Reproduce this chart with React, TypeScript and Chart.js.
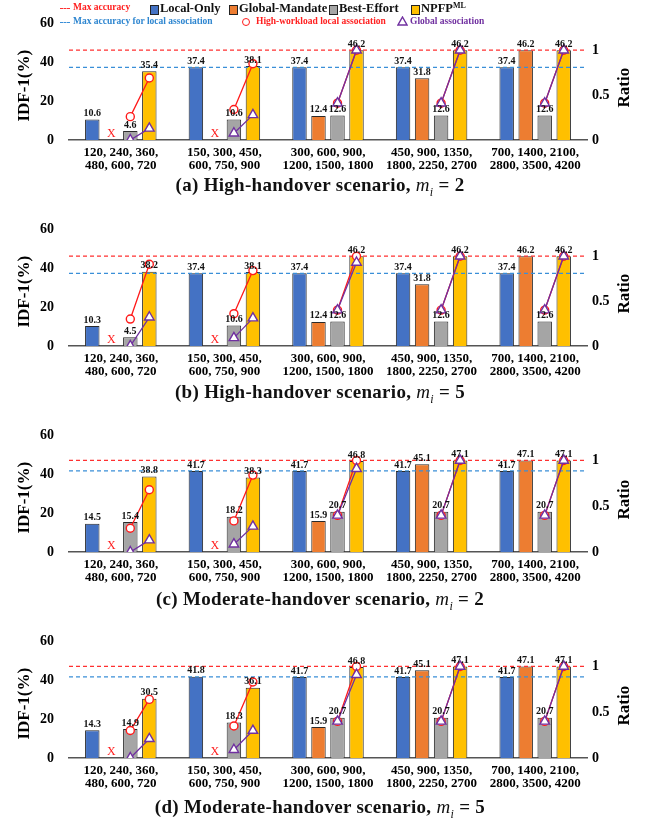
import React, { useEffect, useRef } from "react";
import { Chart, registerables } from "chart.js";
Chart.register(...registerables);

const FONT = "'Liberation Serif', 'Times New Roman', serif";

const categories = [
  ["120, 240, 360,", "480, 600, 720"],
  ["150, 300, 450,", "600, 750, 900"],
  ["300, 600, 900,", "1200, 1500, 1800"],
  ["450, 900, 1350,", "1800, 2250, 2700"],
  ["700, 1400, 2100,", "2800, 3500, 4200"],
];
const seriesNames = ["Local-Only", "Global-Mandate", "Best-Effort", "NPFP"];
const seriesColors = ["#4472C4", "#ED7D31", "#A5A5A5", "#FFC000"];
const idfTicks = [0, 20, 40, 60];
const ratioTicks = [0, 0.5, 1];

// (a) High-handover, m_i = 2
const localOnlyA = [10.6, 37.4, 37.4, 37.4, 37.4];
const globalMandateA = [null, null, 12.4, 31.8, 46.2];
const bestEffortA = [4.6, 10.6, 12.6, 12.6, 12.6];
const npfpA = [35.4, 38.1, 46.2, 46.2, 46.2];
const highWorkloadA = [[0.26, 0.69], [0.34, 0.85], [0.41, 1.0], [0.41, 1.0], [0.41, 1.0]];
const globalAssocA = [[0, 0.13], [0.075, 0.28], [0.41, 1.0], [0.41, 1.0], [0.41, 1.0]];
const maxAccuracyA = 46.2;
const maxLocalA = 37.4;

// (b) High-handover, m_i = 5
const localOnlyB = [10.3, 37.4, 37.4, 37.4, 37.4];
const globalMandateB = [null, null, 12.4, 31.8, 46.2];
const bestEffortB = [4.5, 10.6, 12.6, 12.6, 12.6];
const npfpB = [38.2, 38.1, 46.2, 46.2, 46.2];
const highWorkloadB = [[0.3, 0.91], [0.36, 0.84], [0.4, 1.0], [0.4, 1.0], [0.4, 1.0]];
const globalAssocB = [[0, 0.32], [0.09, 0.31], [0.4, 0.93], [0.4, 1.0], [0.4, 1.0]];
const maxAccuracyB = 46.2;
const maxLocalB = 37.4;

// (c) Moderate-handover, m_i = 2
const localOnlyC = [14.5, 41.7, 41.7, 41.7, 41.7];
const globalMandateC = [null, null, 15.9, 45.1, 47.1];
const bestEffortC = [15.4, 18.2, 20.7, 20.7, 20.7];
const npfpC = [38.8, 38.3, 46.8, 47.1, 47.1];
const highWorkloadC = [[0.26, 0.68], [0.34, 0.84], [0.4, 1.0], [0.4, 1.0], [0.4, 1.0]];
const globalAssocC = [[0, 0.13], [0.085, 0.28], [0.4, 0.91], [0.4, 1.0], [0.4, 1.0]];
const maxAccuracyC = 47.1;
const maxLocalC = 41.7;

// (d) Moderate-handover, m_i = 5
const localOnlyD = [14.3, 41.8, 41.7, 41.7, 41.7];
const globalMandateD = [null, null, 15.9, 45.1, 47.1];
const bestEffortD = [14.9, 18.3, 20.7, 20.7, 20.7];
const npfpD = [30.5, 36.1, 46.8, 47.1, 47.1];
const highWorkloadD = [[0.3, 0.64], [0.35, 0.83], [0.4, 1.0], [0.4, 1.0], [0.4, 1.0]];
const globalAssocD = [[0, 0.21], [0.09, 0.3], [0.4, 0.91], [0.4, 1.0], [0.4, 1.0]];
const maxAccuracyD = 47.1;
const maxLocalD = 41.7;

const CAT_PCT = 0.734;
const BAR_PCT = 0.76;
const slotOffset = (slot: number) => (slot - 1.5) * CAT_PCT / 4;

function pairPoints(pairs: number[][]) {
  const pts: any[] = [];
  pairs.forEach((p, i) => {
    pts.push({ x: i + slotOffset(2), y: p[0] });
    pts.push({ x: i + slotOffset(3), y: p[1] });
    pts.push({ x: i + 0.5, y: null });
  });
  return pts;
}

const labelPlugin = {
  id: "barLabels",
  afterDatasetsDraw(chart: any) {
    const ctx = chart.ctx;
    const yScale = chart.scales.y;
    ctx.save();
    ctx.textAlign = "center";
    chart.data.datasets.forEach((ds: any, di: number) => {
      if (ds.type === "line") return;
      const meta = chart.getDatasetMeta(di);
      meta.data.forEach((el: any, i: number) => {
        const v = ds.data[i].y;
        if (v == null) {
          ctx.font = `12px ${FONT}`;
          ctx.fillStyle = "#FF2020";
          ctx.textBaseline = "middle";
          ctx.fillText("X", el.x, yScale.getPixelForValue(0) - 6);
          return;
        }
        ctx.font = `bold 10px ${FONT}`;
        ctx.fillStyle = "#111";
        ctx.textBaseline = "bottom";
        ctx.fillText(v.toFixed(1), el.x, el.y - 1);
      });
    });
    ctx.restore();
  },
};

const axisTitlePlugin = {
  id: "axisTitles",
  afterDraw(chart: any) {
    const { ctx, chartArea } = chart;
    const cy = (chartArea.top + chartArea.bottom) / 2 + 4;
    ctx.save();
    ctx.font = `bold 17px ${FONT}`;
    ctx.fillStyle = "#000";
    ctx.textAlign = "center";
    ctx.textBaseline = "middle";
    ctx.translate(25, cy);
    ctx.rotate(-Math.PI / 2);
    ctx.fillText("IDF-1(%)", 0, 0);
    ctx.restore();
    ctx.save();
    ctx.font = `bold 17px ${FONT}`;
    ctx.fillStyle = "#000";
    ctx.textAlign = "center";
    ctx.textBaseline = "middle";
    ctx.translate(625, cy + 2);
    ctx.rotate(-Math.PI / 2);
    ctx.fillText("Ratio", 0, 0);
    ctx.restore();
  },
};

type PanelProps = {
  top: number;
  local: (number | null)[];
  mandate: (number | null)[];
  effort: (number | null)[];
  npfp: (number | null)[];
  workload: number[][];
  assoc: number[][];
  maxAcc: number;
  maxLocal: number;
};

function Panel(p: PanelProps) {
  const ref = useRef<HTMLCanvasElement>(null);
  useEffect(() => {
    if (!ref.current) return;
    const barData = [p.local, p.mandate, p.effort, p.npfp];
    const bars = barData.map((d, k) => ({
      type: "bar",
      label: seriesNames[k],
      data: d.map((v, i) => ({ x: i + slotOffset(k), y: v })),
      backgroundColor: seriesColors[k],
      borderColor: "#2a2a2a",
      borderWidth: (c: any) => (c.raw && c.raw.y == null ? 0 : 1),
      borderSkipped: "bottom",
      grouped: false,
      categoryPercentage: 1,
      barPercentage: BAR_PCT,
      xAxisID: "x2",
      yAxisID: "y",
      order: 5,
    }));
    const dashed = (v: number, color: string) => ({
      type: "line",
      data: [{ x: -0.5, y: v }, { x: 4.5, y: v }],
      borderColor: color,
      borderWidth: 1.2,
      borderDash: [4, 3],
      pointRadius: 0,
      xAxisID: "x2",
      yAxisID: "y",
      order: 3,
    });
    const chart = new Chart(ref.current, {
      type: "bar",
      data: {
        labels: categories,
        datasets: [
          ...bars,
          dashed(p.maxAcc, "#FF3030"),
          dashed(p.maxLocal, "#3A8FD8"),
          {
            type: "line",
            data: pairPoints(p.workload),
            borderColor: "#FF1A1A",
            borderWidth: 1.3,
            pointStyle: "circle",
            pointRadius: 4,
            pointBorderWidth: 1.4,
            pointBackgroundColor: "#fff",
            pointBorderColor: "#FF1A1A",
            spanGaps: false,
            xAxisID: "x2",
            yAxisID: "y2",
            order: 2,
          },
          {
            type: "line",
            data: pairPoints(p.assoc),
            borderColor: "#7030A0",
            borderWidth: 1.3,
            pointStyle: "triangle",
            pointRadius: 5.5,
            pointBorderWidth: 1.4,
            pointBackgroundColor: "#fff",
            pointBorderColor: "#7030A0",
            spanGaps: false,
            xAxisID: "x2",
            yAxisID: "y2",
            order: 1,
          },
        ] as any,
      },
      options: {
        responsive: false,
        maintainAspectRatio: false,
        animation: false,
        devicePixelRatio: 1,
        layout: { padding: { top: 9, left: 0, right: 0, bottom: 0 } },
        plugins: { legend: { display: false }, tooltip: { enabled: false } },
        scales: {
          x: {
            type: "category",
            offset: true,
            grid: { display: false, drawTicks: false },
            border: { display: true, color: "#555", width: 1.5 },
            ticks: {
              autoSkip: false,
              maxRotation: 0,
              padding: 6,
              color: "#000",
              font: { family: FONT, size: 13, weight: "bold", lineHeight: 1.0 },
            },
            afterFit: (s: any) => { s.height = 66; },
          },
          x2: { type: "linear", display: false, min: -0.5, max: 4.5, offset: false },
          y: {
            position: "left",
            min: 0,
            max: 60,
            grid: { display: false, drawTicks: false },
            border: { display: false },
            afterBuildTicks: (s: any) => { s.ticks = idfTicks.map((v) => ({ value: v })); },
            ticks: { padding: 15, color: "#000", font: { family: FONT, size: 14, weight: "bold" } },
            afterFit: (s: any) => { s.width = 69; },
          },
          y2: {
            position: "right",
            min: 0,
            max: 60 / p.maxAcc,
            grid: { display: false, drawTicks: false },
            border: { display: false },
            afterBuildTicks: (s: any) => { s.ticks = ratioTicks.map((v) => ({ value: v })); },
            ticks: {
              padding: 5,
              color: "#000",
              font: { family: FONT, size: 14, weight: "bold" },
              callback: (v: any) => String(v),
            },
            afterFit: (s: any) => { s.width = 63; },
          },
        },
      } as any,
      plugins: [labelPlugin, axisTitlePlugin],
    });
    return () => chart.destroy();
  }, []);
  return (
    <canvas
      ref={ref}
      width={650}
      height={206}
      style={{ position: "absolute", left: 0, top: p.top, width: 650, height: 206 }}
    />
  );
}

function Caption({ top, tag, scenario, m }: { top: number; tag: string; scenario: string; m: number }) {
  return (
    <div
      style={{
        position: "absolute",
        left: 0,
        top,
        width: 640,
        textAlign: "center",
        fontFamily: FONT,
        fontWeight: "bold",
        fontSize: 19,
        letterSpacing: 0.3,
        lineHeight: "22px",
        color: "#111",
        whiteSpace: "nowrap",
      }}
    >
      ({tag}) {scenario} scenario, <i style={{ fontWeight: "normal" }}>m</i>
      <sub style={{ fontSize: 12, fontStyle: "italic", fontWeight: "normal" }}>i</sub> = {m}
    </div>
  );
}

const legendText = (color: string, size: number): React.CSSProperties => ({
  position: "absolute",
  fontFamily: FONT,
  fontWeight: "bold",
  fontSize: size,
  color,
  whiteSpace: "nowrap",
  lineHeight: 1,
});

function Legend() {
  const box = (left: number, color: string) => (
    <div
      style={{
        position: "absolute",
        left,
        top: 5,
        width: 7,
        height: 8,
        background: color,
        border: "1px solid #222",
      }}
    />
  );
  const dash = (left: number, top: number, color: string) => (
    <div style={{ position: "absolute", left, top, width: 10, borderTop: `1.5px dashed ${color}` }} />
  );
  return (
    <>
      {dash(60, 8, "#FF3030")}
      <div style={{ ...legendText("#FF2020", 9.5), left: 73, top: 3 }}>Max accuracy</div>
      {box(150, seriesColors[0])}
      <div style={{ ...legendText("#111", 12.5), left: 160, top: 2 }}>{seriesNames[0]}</div>
      {box(229, seriesColors[1])}
      <div style={{ ...legendText("#111", 12.5), left: 239, top: 2 }}>{seriesNames[1]}</div>
      {box(329, seriesColors[2])}
      <div style={{ ...legendText("#111", 12.5), left: 339, top: 2 }}>{seriesNames[2]}</div>
      {box(411, seriesColors[3])}
      <div style={{ ...legendText("#111", 12.5), left: 421, top: 2 }}>
        {seriesNames[3]}
        <sup style={{ fontSize: 8, verticalAlign: "4px" }}>ML</sup>
      </div>
      {dash(60, 22, "#3A8FD8")}
      <div style={{ ...legendText("#2E86D0", 9.5), left: 73, top: 17 }}>Max accuracy for local association</div>
      <div
        style={{
          position: "absolute",
          left: 242,
          top: 18,
          width: 6,
          height: 6,
          borderRadius: "50%",
          border: "1.4px solid #FF1A1A",
          background: "#fff",
        }}
      />
      <div style={{ ...legendText("#FF2020", 9.5), left: 256, top: 17 }}>High-workload local association</div>
      <svg style={{ position: "absolute", left: 397, top: 16 }} width={11} height={10}>
        <polygon points="5.5,1 10,9 1,9" fill="#fff" stroke="#7030A0" strokeWidth={1.4} />
      </svg>
      <div style={{ ...legendText("#7030A0", 9.5), left: 410, top: 17 }}>Global association</div>
    </>
  );
}

export default function App() {
  return (
    <div style={{ position: "absolute", left: 0, top: 0, width: 650, height: 825, background: "#fff" }}>
      <Panel top={0} local={localOnlyA} mandate={globalMandateA} effort={bestEffortA} npfp={npfpA}
        workload={highWorkloadA} assoc={globalAssocA} maxAcc={maxAccuracyA} maxLocal={maxLocalA} />
      <Panel top={206} local={localOnlyB} mandate={globalMandateB} effort={bestEffortB} npfp={npfpB}
        workload={highWorkloadB} assoc={globalAssocB} maxAcc={maxAccuracyB} maxLocal={maxLocalB} />
      <Panel top={412} local={localOnlyC} mandate={globalMandateC} effort={bestEffortC} npfp={npfpC}
        workload={highWorkloadC} assoc={globalAssocC} maxAcc={maxAccuracyC} maxLocal={maxLocalC} />
      <Panel top={618} local={localOnlyD} mandate={globalMandateD} effort={bestEffortD} npfp={npfpD}
        workload={highWorkloadD} assoc={globalAssocD} maxAcc={maxAccuracyD} maxLocal={maxLocalD} />
      <Legend />
      <Caption top={174} tag="a" scenario="High-handover" m={2} />
      <Caption top={381} tag="b" scenario="High-handover" m={5} />
      <Caption top={588} tag="c" scenario="Moderate-handover" m={2} />
      <Caption top={796} tag="d" scenario="Moderate-handover" m={5} />
    </div>
  );
}
